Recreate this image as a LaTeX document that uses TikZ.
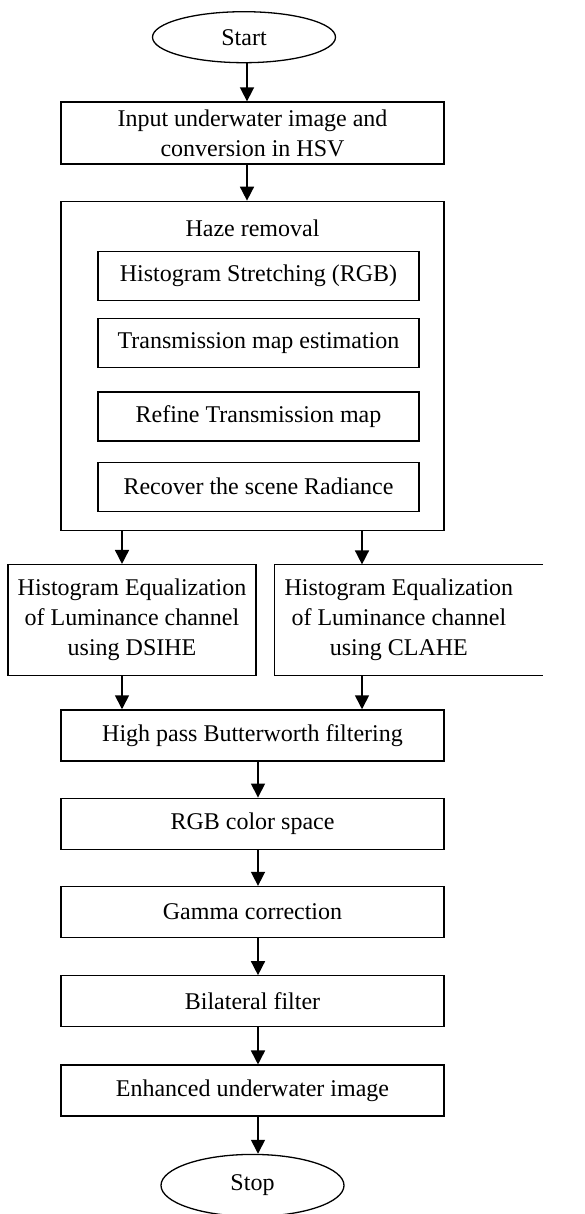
\documentclass[tikz,border=0pt]{standalone}
\usepackage{fontspec}
\setmainfont{Liberation Serif}
\usetikzlibrary{positioning,shapes.geometric,arrows.meta}

\begin{document}
\begin{tikzpicture}[x=1pt,y=-1pt,
	every node/.style={font=\fontsize{24}{30}\selectfont},
	terminal/.style={ellipse,draw,line width=1.3pt,minimum width=183pt,minimum height=51pt,inner sep=0pt},
	box/.style={rectangle,draw,line width=1.3pt,align=center,minimum width=383pt,minimum height=51pt,inner sep=0pt},
	inbox/.style={rectangle,draw,line width=1.3pt,align=center,minimum width=321pt,minimum height=49pt,inner sep=0pt},
	sidebox/.style={rectangle,align=center,minimum width=248pt,minimum height=111pt,inner sep=0pt},
	arrow/.style={line width=1.6pt,-{Triangle[length=14pt,width=14pt]}}]
		\useasboundingbox (0,0) rectangle (584,1214);

		\node[box,minimum height=62pt] 						(input)		at (252.5,133) {Input underwater image and\\conversion in HSV};
		\node[terminal,node distance=38pt,above=of input,xshift=-8.5pt]	(start)		{Start};

		\node[box,minimum height=329pt,node distance=36pt,below=of input]	(haze)		{};
		\node										(hazetitle)	at ([yshift=-28pt]haze.north) {Haze removal};
		\node[inbox,anchor=north]							(hist)		at ([xshift=6pt,yshift=-50pt]haze.north) {Histogram Stretching (RGB)};
		\node[inbox,node distance=17pt,below=of hist]				(trans)		{Transmission map estimation};
		\node[inbox,node distance=23pt,below=of trans]				(refine)	{Refine Transmission map};
		\node[inbox,node distance=20pt,below=of refine]				(recover)	{Recover the scene Radiance};

		\node[sidebox,draw,line width=1.3pt,anchor=north west]			(dsihe)		at ([xshift=-53pt,yshift=-33pt]haze.south west) {Histogram Equalization\\of Luminance channel\\using DSIHE};
		\node[sidebox,node distance=18pt,right=of dsihe]			(clahe)		{Histogram Equalization\\of Luminance channel\\using CLAHE};
		\draw[line width=1.3pt] (clahe.north east) ++(20pt,0) -- (clahe.north west) -- (clahe.south west) -- ++(268pt,0);

		\node[box,anchor=north]							(butter)	at ([yshift=-33pt]dsihe.south -| haze.south) {High pass Butterworth filtering};
		\node[box,node distance=36pt,below=of butter]				(rgb)		{RGB color space};
		\node[box,node distance=36pt,below=of rgb]				(gamma)		{Gamma correction};
		\node[box,node distance=37pt,below=of gamma]				(bilateral)	{Bilateral filter};
		\node[box,node distance=37pt,below=of bilateral]			(enhanced)	{Enhanced underwater image};
		\node[terminal,minimum height=62pt,node distance=37pt,below=of enhanced]	(stop)		{Stop};

		\coordinate (colL) at ([xshift=-130.5pt]haze.south);
		\coordinate (colR) at ([xshift=109.5pt]haze.south);

		\draw[arrow] ([xshift=3pt]start.south) -- ([xshift=3pt]start.south |- input.north);
		\draw[arrow] ([xshift=-5.5pt]input.south) -- ([xshift=-5.5pt]haze.north);
		\draw[arrow] (colL) -- (colL |- dsihe.north);
		\draw[arrow] (colR) -- (colR |- clahe.north);
		\draw[arrow] (colL |- dsihe.south) -- (colL |- butter.north);
		\draw[arrow] (colR |- clahe.south) -- (colR |- butter.north);
		\draw[arrow] ([xshift=5.5pt]butter.south) -- ([xshift=5.5pt]rgb.north);
		\draw[arrow] ([xshift=5.5pt]rgb.south) -- ([xshift=5.5pt]gamma.north);
		\draw[arrow] ([xshift=5.5pt]gamma.south) -- ([xshift=5.5pt]bilateral.north);
		\draw[arrow] ([xshift=5.5pt]bilateral.south) -- ([xshift=5.5pt]enhanced.north);
		\draw[arrow] ([xshift=5.5pt]enhanced.south) -- ([xshift=5.5pt]enhanced.south |- stop.north);
	\end{tikzpicture}
\end{document}
